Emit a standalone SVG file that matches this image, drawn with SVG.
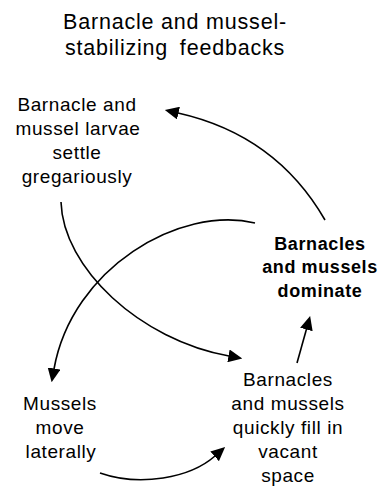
<svg xmlns="http://www.w3.org/2000/svg" width="385" height="491" viewBox="0 0 385 491">
<style>
text{font-family:"Liberation Sans",Arial,Helvetica,sans-serif;fill:#000;text-anchor:middle}
.t{font-size:21.5px;letter-spacing:0.8px}
.n{font-size:19px;letter-spacing:0.6px}
.b{font-size:18px;font-weight:bold;letter-spacing:0.6px}
.c{fill:none;stroke:#000;stroke-width:1.6;marker-end:url(#ah)}
</style>
<defs>
<marker id="ah" markerUnits="userSpaceOnUse" viewBox="0 0 14 13" markerWidth="14" markerHeight="13" refX="0.5" refY="6.5" orient="auto">
<path d="M0,0 L14,6.5 L0,13 Z" fill="#000"/>
</marker>
</defs>
<g id="title">
<text class="t" x="175" y="29">Barnacle and mussel-</text>
<text class="t" x="175" y="55" word-spacing="5">stabilizing feedbacks</text>
</g>
<g id="connectors">
<path class="c" d="M325,220 Q276,135 178,113"/>
<path class="c" d="M61,202 C63,268 140,340 229,356"/>
<path class="c" d="M255,223 C180,205 72,268 54,369"/>
<path class="c" d="M100,473 C140,487 190,478 215,456"/>
<path class="c" d="M297,363 L306.5,329"/>
</g>
<g id="settle">
<text class="n" x="77" y="111">Barnacle and</text>
<text class="n" x="78" y="135">mussel larvae</text>
<text class="n" x="77" y="159">settle</text>
<text class="n" x="77" y="183">gregariously</text>
</g>
<g id="dominate">
<text class="b" x="320" y="250">Barnacles</text>
<text class="b" x="320" y="273">and mussels</text>
<text class="b" x="320" y="297">dominate</text>
</g>
<g id="move">
<text class="n" x="60" y="410">Mussels</text>
<text class="n" x="60" y="434">move</text>
<text class="n" x="61" y="458">laterally</text>
</g>
<g id="fill">
<text class="n" x="288" y="386">Barnacles</text>
<text class="n" x="288" y="410">and mussels</text>
<text class="n" x="288" y="434">quickly fill in</text>
<text class="n" x="288" y="458">vacant</text>
<text class="n" x="288" y="482">space</text>
</g>
</svg>
